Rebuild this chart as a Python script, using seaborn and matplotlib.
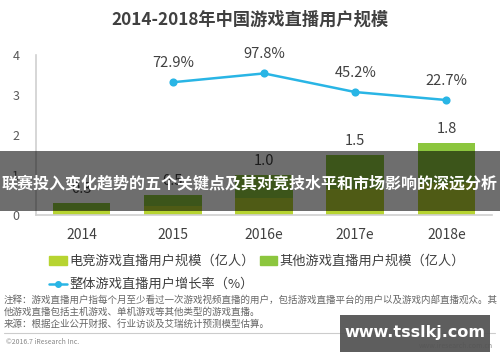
import numpy as np
import matplotlib.pyplot as plt
import matplotlib.patches as mpatches
import matplotlib.lines as mlines
import pandas as pd
import seaborn as sns

years = ['2014', '2015', '2016e', '2017e', '2018e']
total_users = [0.3, 0.5, 1.0, 1.5, 1.8]
esports_users = [0.12, 0.22, 0.42, 0.65, 0.8]
growth_years = ['2015', '2016e', '2017e', '2018e']
growth_rate = [72.9, 97.8, 45.2, 22.7]

sns.set_style('white')
plt.rcParams['font.family'] = ['Noto Sans CJK SC', 'DejaVu Sans']

c_esports = '#b7d431'
c_other = '#8cc63e'
c_line = '#29b5e5'
c_text = '#404040'

bars = pd.DataFrame({'year': years, 'total': total_users, 'esports': esports_users})
growth = pd.DataFrame({'year': growth_years, 'rate': growth_rate})

fig = plt.figure(figsize=(5, 3.62), dpi=100)
ax = fig.add_axes([0.072, 0.406, 0.912, 0.442])

sns.barplot(data=bars, x='year', y='total', order=years, color=c_other,
            width=0.63, saturation=1, linewidth=0, ax=ax)
sns.barplot(data=bars, x='year', y='esports', order=years, color=c_esports,
            width=0.63, saturation=1, linewidth=0, ax=ax)

for i, v in enumerate(total_users):
    ax.text(i, v + 0.18, f'{v:.1f}', ha='center', va='bottom', fontsize=10.5, color=c_text)

ax.set_ylim(0, 4)
ax.set_yticks([0, 1, 2, 3, 4])
ax.set_xlabel('')
ax.set_ylabel('')
ax.tick_params(axis='y', labelsize=9, colors='#595959', pad=12, length=0)
ax.tick_params(axis='x', labelsize=10, colors=c_text, pad=9, length=0)
for s in ['top', 'right']:
    ax.spines[s].set_visible(False)
for s in ['left', 'bottom']:
    ax.spines[s].set_color('#d0d0d0')
    ax.spines[s].set_linewidth(1.2)

ax2 = ax.twinx()
sns.pointplot(data=growth, x='year', y='rate', order=years, color=c_line,
              markers='o', markersize=4.5, linewidth=1.8, ax=ax2)
ax2.set_ylim(-301.8, 149.7)
ax2.axis('off')
for yr, r in zip(growth_years, growth_rate):
    ax2.text(years.index(yr), r + 34, f'{r}%', ha='center', va='bottom',
             fontsize=10.5, color=c_text)

fig.text(0.5, 0.945, '2014-2018年中国游戏直播用户规模', ha='center', va='center',
         fontsize=12.4, fontweight='bold', color=c_text)

h1 = mpatches.Patch(color=c_esports, label='电竞游戏直播用户规模（亿人）')
h2 = mpatches.Patch(color=c_other, label='其他游戏直播用户规模（亿人）')
h3 = mlines.Line2D([], [], color=c_line, marker='o', markersize=4, linewidth=1.8,
                   label='整体游戏直播用户增长率（%）')
fig.legend(handles=[h1, h3, h2], ncol=2, loc='upper left',
           bbox_to_anchor=(0.075, 0.328), frameon=False, fontsize=9.5,
           handlelength=1.3, handleheight=0.6, handletextpad=0.2,
           columnspacing=0.4, labelspacing=0.75, labelcolor=c_text)

notes = ('注释：游戏直播用户指每个月至少看过一次游戏视频直播的用户，包括游戏直播平台的用户以及游戏内部直播观众。其\n'
         '他游戏直播包括主机游戏、单机游戏等其他类型的游戏直播。\n'
         '来源：根据企业公开财报、行业访谈及艾瑞统计预测模型估算。')
fig.text(0.008, 0.185, notes, ha='left', va='top', fontsize=6.85, color='#666666',
         linespacing=1.35)
fig.add_artist(mlines.Line2D([0.008, 0.99], [0.08, 0.08], color='#cccccc', linewidth=0.8))
fig.text(0.012, 0.055, '©2016.7 iResearch Inc.', ha='left', va='center', fontsize=5,
         color='#888888')
fig.text(0.985, 0.045, 'www.iresearch.com.cn', ha='right', va='center', fontsize=5,
         color='#888888')

# banner overlay
fig.add_artist(mpatches.Rectangle((0, 1 - 211 / 362), 1, 60 / 362, transform=fig.transFigure,
                                  color='black', alpha=0.57, zorder=10, linewidth=0))
fig.text(0.5, 1 - 183 / 362, '联赛投入变化趋势的五个关键点及其对竞技水平和市场影响的深远分析',
         ha='center', va='center', fontsize=11.5, fontweight='bold', color='white', zorder=11)

# watermark box
fig.add_artist(mpatches.Rectangle((0.68, 1 - 352 / 362), 0.30, 37 / 362, transform=fig.transFigure,
                                  color='#555555', alpha=0.95, zorder=10, linewidth=0))
fig.text(0.83, 1 - 333 / 362, 'www.tsslkj.com', ha='center', va='center', fontsize=11.5,
         fontweight='bold', color='white', zorder=11, family=['DejaVu Sans'])

fig.savefig('out.png', dpi=100)
